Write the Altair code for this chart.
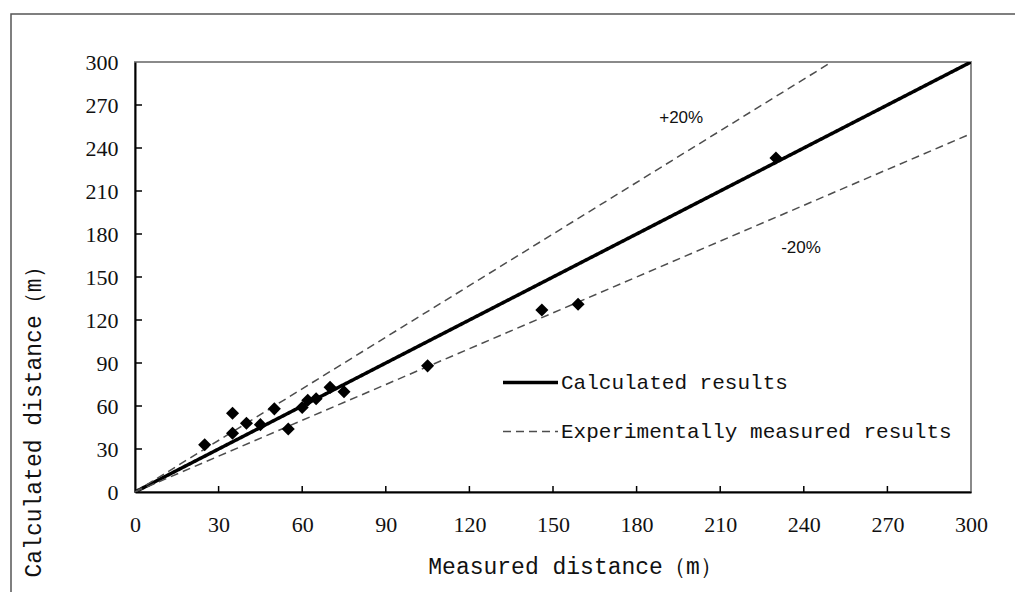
import altair as alt
import pandas as pd

# measured vs calculated distances (m)
measured = [25, 35, 35, 40, 45, 50, 55, 60, 62, 65, 70, 75, 105, 146, 159, 230]
calculated = [33, 55, 41, 48, 47, 58, 44, 59, 64, 65, 73, 70, 88, 127, 131, 233]

# reference lines
series_names = ["Calculated results", "Experimentally measured results", "Experimentally measured results"]
series_ids = ["equal", "plus20", "minus20"]
series_x = [[0, 300], [0, 250], [0, 300]]
series_y = [[0, 300], [0, 300], [0, 250]]

ticks = [30, 60, 90, 120, 150, 180, 210, 240, 270]
tick_labels_vals = [0, 30, 60, 90, 120, 150, 180, 210, 240, 270, 300]

ann_text = ["+20%", "-20%"]
ann_x = [196, 239]
ann_y = [261, 170]

rows = []
for name, sid, xs, ys in zip(series_names, series_ids, series_x, series_y):
    for xv, yv in zip(xs, ys):
        rows.append({"series": name, "id": sid, "x": xv, "y": yv})
lines_df = pd.DataFrame(rows)
pts_df = pd.DataFrame({"x": measured, "y": calculated})
ticks_df = pd.DataFrame({"t": ticks})
ann_df = pd.DataFrame({"x": ann_x, "y": ann_y, "label": ann_text})
one_df = pd.DataFrame({"a": [0]})

W, H = 836, 430
xscale = alt.Scale(domain=[0, 300], nice=False, zero=True)
yscale = alt.Scale(domain=[0, 300], nice=False, zero=True)
legend_domain = ["Calculated results", "Experimentally measured results"]

xaxis = alt.Axis(values=tick_labels_vals, ticks=False, grid=False, domainColor="black",
                 domainWidth=2, labelFont="Liberation Serif", labelFontSize=22,
                 labelColor="#111", labelPadding=22, labelFlush=False,
                 title="Measured distance（m）",
                 titleFont="Liberation Mono", titleFontSize=23, titleFontWeight="normal",
                 titleColor="#111", titleX=440, titleY=74, titleBaseline="middle")
yaxis = alt.Axis(values=tick_labels_vals, ticks=False, grid=False, domainColor="black",
                 domainWidth=2, labelFont="Liberation Serif", labelFontSize=22,
                 labelColor="#111", labelPadding=17, labelFlush=False,
                 title="Calculated distance（m）",
                 titleFont="Liberation Mono", titleFontSize=23, titleFontWeight="normal",
                 titleColor="#111", titleX=-102, titleY=354, titleBaseline="middle",
                 titleAngle=-90)

leg = alt.Legend(title=None, orient="none", legendX=366, legendY=291,
                 symbolType="stroke", symbolSize=3025,
                 labelFont="Liberation Mono", labelFontSize=21,
                 labelColor="#111", labelLimit=600, rowPadding=10,
                 labelOffset=1)

border = alt.Chart(one_df).mark_rect(filled=False, stroke="#555", strokeWidth=1.5).encode(
    x=alt.value(-124), x2=alt.value(905), y=alt.value(-48), y2=alt.value(560))

lines = alt.Chart(lines_df).mark_line(clip=True).encode(
    x=alt.X("x:Q", scale=xscale, axis=xaxis),
    y=alt.Y("y:Q", scale=yscale, axis=yaxis),
    detail="id:N",
    color=alt.Color("series:N", scale=alt.Scale(domain=legend_domain, range=["black", "#4d4d4d"]),
                    legend=leg),
    strokeDash=alt.StrokeDash("series:N", scale=alt.Scale(domain=legend_domain, range=[[1, 0], [8, 5]]),
                              legend=leg),
    strokeWidth=alt.StrokeWidth("series:N", scale=alt.Scale(domain=legend_domain, range=[3.5, 1.5]),
                                legend=leg),
)

xt = alt.Chart(ticks_df).mark_rule(color="black", strokeWidth=1.5).encode(
    x=alt.X("t:Q", scale=xscale, axis=xaxis), y=alt.value(H), y2=alt.value(H - 6))
yt = alt.Chart(ticks_df).mark_rule(color="black", strokeWidth=1.5).encode(
    y=alt.Y("t:Q", scale=yscale, axis=yaxis), x=alt.value(0), x2=alt.value(7))

points = alt.Chart(pts_df).mark_point(shape="diamond", filled=True, color="black", size=170, opacity=1).encode(
    x=alt.X("x:Q", scale=xscale, axis=xaxis), y=alt.Y("y:Q", scale=yscale, axis=yaxis))

ann = alt.Chart(ann_df).mark_text(font="Liberation Sans", fontSize=17, color="#111").encode(
    x=alt.X("x:Q", scale=xscale, axis=xaxis), y=alt.Y("y:Q", scale=yscale, axis=yaxis), text="label:N")

chart = alt.layer(border, lines, xt, yt, points, ann).properties(
    width=W, height=H,
    autosize=alt.AutoSizeParams(type="none"),
    padding={"left": 135, "top": 62, "right": 44, "bottom": 100},
    background="white",
).configure_view(stroke="#8a8a8a", strokeWidth=2)

chart.save("out.html", embed_options={"renderer": "svg", "actions": False})
